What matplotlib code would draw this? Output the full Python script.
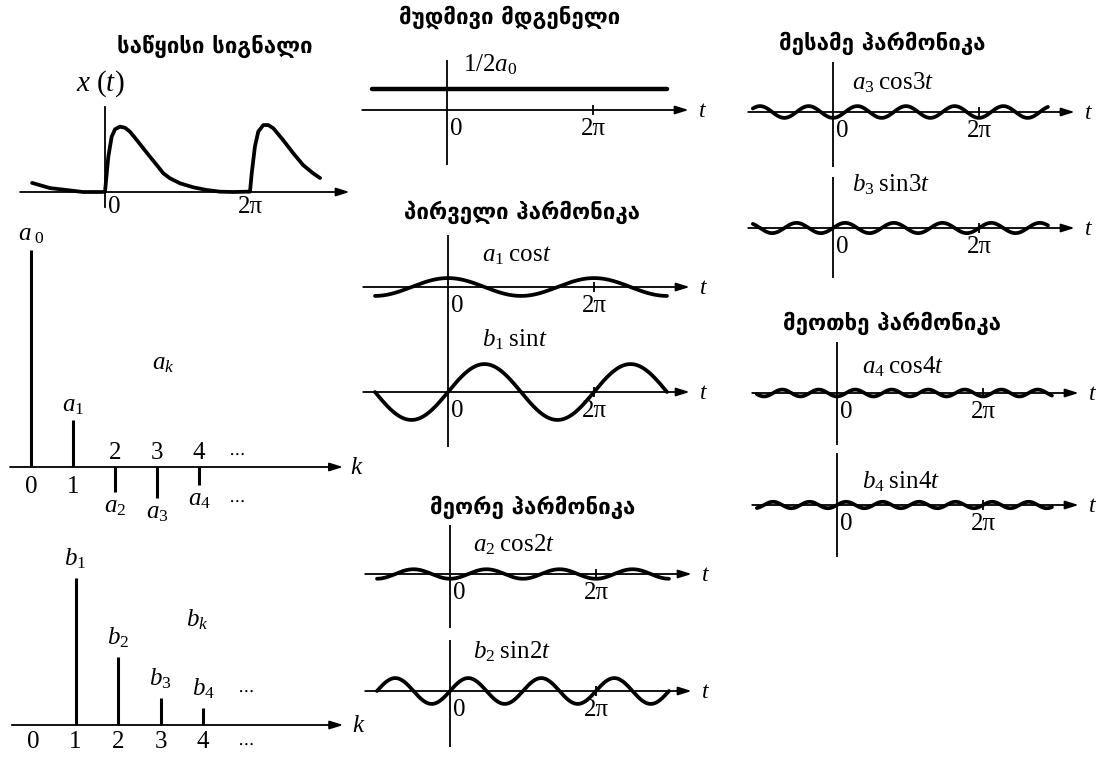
import numpy as np
import matplotlib
matplotlib.use("Agg")
import matplotlib.pyplot as plt

plt.rcParams["mathtext.fontset"] = "custom"
plt.rcParams["mathtext.rm"] = "Liberation Serif"
plt.rcParams["mathtext.it"] = "Liberation Serif:italic"
plt.rcParams["mathtext.bf"] = "Liberation Serif:bold"

# ---- data -------------------------------------------------------------
# Fourier coefficients of the periodic signal (spectrum units)
k_a = [0, 1, 2, 3, 4]
a_coef = [21.7, 4.7, -2.5, -3.1, -1.8]
k_b = [1, 2, 3, 4]
b_coef = [14.7, 6.8, 2.7, 1.7]

# samples of the original signal x(t); phase in periods (t / 2pi)
sig_phase = [-0.503, -0.379, -0.262, -0.152, -0.021,
             0.0, 0.023, 0.046, 0.069, 0.103, 0.138, 0.172, 0.219, 0.264,
             0.310, 0.357, 0.402, 0.448, 0.517, 0.609, 0.701, 0.793, 0.885,
             0.977, 1.0, 1.012, 1.034, 1.057, 1.092, 1.126, 1.161, 1.228,
             1.297, 1.366, 1.434, 1.483]
sig_value = [0.14, 0.06, 0.03, 0.0, 0.0,
             0.005, 0.543, 0.851, 0.965, 1.005, 0.989, 0.928, 0.800, 0.672,
             0.543, 0.415, 0.288, 0.211, 0.134, 0.072, 0.031, 0.005, 0.0,
             0.005, 0.005, 0.29, 0.70, 0.93, 1.03, 1.03, 0.98, 0.80,
             0.60, 0.415, 0.29, 0.215]

titles = ["საწყისი სიგნალი", "მუდმივი მდგენელი", "პირველი ჰარმონიკა",
          "მეორე ჰარმონიკა", "მესამე ჰარმონიკა", "მეოთხე ჰარმონიკა"]

# ---- figure helpers ---------------------------------------------------
W, H = 1097, 764
fig = plt.figure(figsize=(W / 100, H / 100), dpi=100)
fig.patch.set_facecolor("white")

SERIF = "Liberation Serif"
GEO = ["DejaVu Sans", "Noto Sans"]
TWO_PI = 2 * np.pi
T_SX = 146 / TWO_PI      # px per radian on the time plots
H_SY = 1.9               # px per coefficient unit on the harmonic plots
S_SY = 10.0              # px per coefficient unit on the spectra
LW_AX = 1.3
LW_CURVE = 2.7
FS_NUM = 18
FS_LBL = 18


def make_axes(box, origin, sx, sy):
    left, top, right, bottom = box
    x0, y0 = origin
    ax = fig.add_axes([left / W, 1 - bottom / H, (right - left) / W, (bottom - top) / H])
    ax.set_xlim((left - x0) / sx, (right - x0) / sx)
    ax.set_ylim((y0 - bottom) / sy, (y0 - top) / sy)
    ax.set_axis_off()
    ax.patch.set_visible(False)
    return ax


def arrow_axis(ax, x_lo, x_hi):
    ax.annotate("", xy=(x_hi, 0), xytext=(x_lo, 0), annotation_clip=False,
                arrowprops=dict(arrowstyle="-|>,head_length=0.8,head_width=0.25",
                                color="k", lw=LW_AX, shrinkA=0, shrinkB=0,
                                mutation_scale=10))


def time_axis(ax, sx, sy, vert, t_lo=-3.65, t_hi=10.4, zero_gap=8):
    arrow_axis(ax, t_lo, t_hi)
    ax.plot([0, 0], [vert[0] / sy, vert[1] / sy], color="k", lw=LW_AX,
            solid_capstyle="butt", clip_on=False)
    ax.plot([TWO_PI], [0], marker="|", ms=7, mew=LW_AX, color="k", clip_on=False)
    ax.text(t_hi + 9 / sx, 0, "$t$", ha="left", va="center", fontsize=17)
    ax.text(3 / sx, -zero_gap / sy, "0", ha="left", va="top", family=SERIF, fontsize=FS_NUM)
    ax.text(TWO_PI, -zero_gap / sy, "2π", ha="center", va="top", family=SERIF, fontsize=FS_NUM)


def title(x, y, s):
    fig.text(x / W, 1 - y / H, s, ha="center", va="center", family=GEO,
             fontweight="bold", fontsize=16)


# ---- original signal --------------------------------------------------
sx = 145 / TWO_PI
ax = make_axes((10, 60, 360, 215), (105, 192), sx, 65)
t_sig = np.array(sig_phase) * TWO_PI
ax.plot(t_sig, sig_value, color="k", lw=LW_CURVE, solid_joinstyle="round",
        solid_capstyle="round")
arrow_axis(ax, -3.68, 10.6)
ax.plot([0, 0], [-15 / 65, 85 / 65], color="k", lw=LW_AX, clip_on=False)
ax.text(3 / sx, -4 / 65, "0", ha="left", va="top", family=SERIF, fontsize=FS_NUM)
ax.text(TWO_PI, -4 / 65, "2π", ha="center", va="top", family=SERIF, fontsize=FS_NUM)
ax.text(-5 / sx, 108 / 65, "$x\\ (t)$", ha="center", va="center", fontsize=21)
title(215, 46, titles[0])

# ---- spectrum a_k -----------------------------------------------------
ax = make_axes((0, 225, 360, 520), (31, 467), 42, S_SY)
ax.vlines(k_a, 0, a_coef, color="k", lw=2.2)
arrow_axis(ax, -0.5, 7.43)
ax.text(7.6, 0, "$k$", ha="left", va="center", fontsize=FS_LBL)
ax.text(0, a_coef[0] + 1.6, "$a_{\\ 0}$", ha="center", va="center", fontsize=FS_LBL)
ax.text(1, a_coef[1] + 1.5, "$a_1$", ha="center", va="center", fontsize=FS_LBL)
for k, v in zip(k_a[2:], a_coef[2:]):
    ax.text(k, 1.4, str(k), ha="center", va="center", family=SERIF, fontsize=FS_NUM)
    ax.text(k, v - 1.4, "$a_{%d}$" % k, ha="center", va="center", fontsize=FS_LBL)
for k in k_a[:2]:
    ax.text(k, -2.0, str(k), ha="center", va="center", family=SERIF, fontsize=FS_NUM)
ax.text(4.9, 1.4, "$\\cdots$", ha="center", va="center", fontsize=13)
ax.text(4.9, -3.3, "$\\cdots$", ha="center", va="center", fontsize=13)
ax.text(3.14, 10.4, "$a_k$", ha="center", va="center", fontsize=FS_LBL)

# ---- spectrum b_k -----------------------------------------------------
ax = make_axes((0, 530, 360, 764), (33, 725), 42.5, S_SY)
ax.vlines(k_b, 0, b_coef, color="k", lw=2.2)
arrow_axis(ax, -0.5, 7.3)
ax.text(7.5, 0, "$k$", ha="left", va="center", fontsize=FS_LBL)
for k, v in zip(k_b, b_coef):
    ax.text(k, v + 1.9, "$b_{%d}$" % k, ha="center", va="center", fontsize=FS_LBL)
for k in [0] + k_b:
    ax.text(k, -1.7, str(k), ha="center", va="center", family=SERIF, fontsize=FS_NUM)
ax.text(5.0, 3.5, "$\\cdots$", ha="center", va="center", fontsize=13)
ax.text(5.0, -1.8, "$\\cdots$", ha="center", va="center", fontsize=13)
ax.text(3.86, 10.5, "$b_k$", ha="center", va="center", fontsize=FS_LBL)


# ---- harmonics --------------------------------------------------------
def harmonic(origin, vert, values, label, label_x, label_dy, t_rng, lw=LW_CURVE):
    box = (origin[0] - 95, origin[1] - 60, origin[0] + 260, origin[1] + 60)
    ax = make_axes(box, origin, T_SX, H_SY)
    time_axis(ax, T_SX, H_SY, vert)
    t = np.linspace(t_rng[0], t_rng[1], 600)
    ax.plot(t, values(t), color="k", lw=lw, solid_capstyle="round")
    ax.text((label_x - origin[0]) / T_SX, label_dy / H_SY, label, ha="left",
            va="center", fontsize=FS_LBL)
    return ax


col2 = (-np.pi, 3 * np.pi)
col3 = (-3.45, 9.25)

# constant component
harmonic((447, 110), (-55, 50), lambda t: np.full_like(t, a_coef[0] / 2),
         "$\\mathrm{1/2}a_0$", 463, 45, (-3.23, 9.47), lw=3.2)
title(510, 17, titles[1])

# first harmonic
harmonic((448, 287), (-53, 52), lambda t: a_coef[1] * np.cos(t),
         "$a_1\\;\\mathrm{cos}t$", 482, 32, col2)
harmonic((448, 392), (-55, 52), lambda t: b_coef[0] * np.sin(t),
         "$b_1\\;\\mathrm{sin}t$", 482, 52, col2)
title(522, 212, titles[2])

# second harmonic
harmonic((450, 574), (-54, 49), lambda t: a_coef[2] * np.cos(2 * t),
         "$a_2\\;\\mathrm{cos2}t$", 473, 29, col2)
harmonic((450, 691), (-56, 51), lambda t: b_coef[1] * np.sin(2 * t),
         "$b_2\\;\\mathrm{sin2}t$", 473, 39, col2)
title(533, 507, titles[3])

# third harmonic
harmonic((833, 112), (-55, 50), lambda t: a_coef[3] * np.cos(3 * t),
         "$a_3\\;\\mathrm{cos3}t$", 852, 29, col3)
harmonic((833, 228), (-50, 51), lambda t: b_coef[2] * np.sin(3 * t),
         "$b_3\\;\\mathrm{sin3}t$", 852, 43, col3)
title(882, 43, titles[4])

# fourth harmonic
harmonic((837, 393), (-52, 51), lambda t: a_coef[4] * np.cos(4 * t),
         "$a_4\\;\\mathrm{cos4}t$", 862, 26, col3)
harmonic((837, 505), (-52, 52), lambda t: b_coef[3] * np.sin(4 * t),
         "$b_4\\;\\mathrm{sin4}t$", 862, 23, col3)
title(892, 323, titles[5])

fig.savefig("out.png", dpi=100, facecolor="white")
